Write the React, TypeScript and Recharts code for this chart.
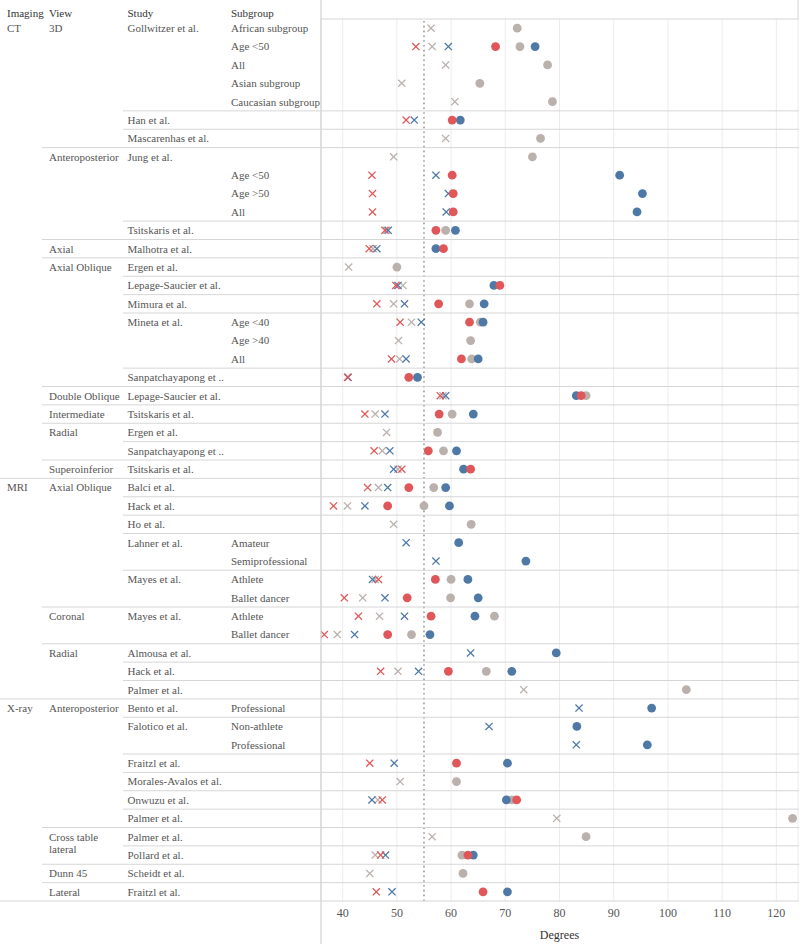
import React from 'react';
import { ScatterChart, Scatter, XAxis, YAxis, CartesianGrid, ReferenceLine } from 'recharts';

const imaging = [
  'CT', 'CT', 'CT', 'CT', 'CT', 'CT', 'CT', 'CT', 'CT', 'CT', 'CT', 'CT', 'CT',
  'CT', 'CT', 'CT', 'CT', 'CT', 'CT', 'CT', 'CT', 'CT', 'CT', 'CT', 'CT',
  'MRI', 'MRI', 'MRI', 'MRI', 'MRI', 'MRI', 'MRI', 'MRI', 'MRI', 'MRI', 'MRI', 'MRI',
  'X-ray', 'X-ray', 'X-ray', 'X-ray', 'X-ray', 'X-ray', 'X-ray', 'X-ray', 'X-ray', 'X-ray', 'X-ray',
];

const view = [
  '3D', '3D', '3D', '3D', '3D', '3D', '3D',
  'Anteroposterior', 'Anteroposterior', 'Anteroposterior', 'Anteroposterior', 'Anteroposterior',
  'Axial',
  'Axial Oblique', 'Axial Oblique', 'Axial Oblique', 'Axial Oblique', 'Axial Oblique', 'Axial Oblique', 'Axial Oblique',
  'Double Oblique', 'Intermediate', 'Radial', 'Radial', 'Superoinferior',
  'Axial Oblique', 'Axial Oblique', 'Axial Oblique', 'Axial Oblique', 'Axial Oblique', 'Axial Oblique', 'Axial Oblique',
  'Coronal', 'Coronal', 'Radial', 'Radial', 'Radial',
  'Anteroposterior', 'Anteroposterior', 'Anteroposterior', 'Anteroposterior', 'Anteroposterior', 'Anteroposterior', 'Anteroposterior',
  'Cross table lateral', 'Cross table lateral', 'Dunn 45', 'Lateral',
];

const study = [
  'Gollwitzer et al.', 'Gollwitzer et al.', 'Gollwitzer et al.', 'Gollwitzer et al.', 'Gollwitzer et al.',
  'Han et al.', 'Mascarenhas et al.',
  'Jung et al.', 'Jung et al.', 'Jung et al.', 'Jung et al.', 'Tsitskaris et al.',
  'Malhotra et al.',
  'Ergen et al.', 'Lepage-Saucier et al.', 'Mimura et al.', 'Mineta et al.', 'Mineta et al.', 'Mineta et al.', 'Sanpatchayapong et ..',
  'Lepage-Saucier et al.', 'Tsitskaris et al.', 'Ergen et al.', 'Sanpatchayapong et ..', 'Tsitskaris et al.',
  'Balci et al.', 'Hack et al.', 'Ho et al.', 'Lahner et al.', 'Lahner et al.', 'Mayes et al.', 'Mayes et al.',
  'Mayes et al.', 'Mayes et al.', 'Almousa et al.', 'Hack et al.', 'Palmer et al.',
  'Bento et al.', 'Falotico et al.', 'Falotico et al.', 'Fraitzl et al.', 'Morales-Avalos et al.', 'Onwuzu et al.', 'Palmer et al.',
  'Palmer et al.', 'Pollard et al.', 'Scheidt et al.', 'Fraitzl et al.',
];

const subgroup = [
  'African subgroup', 'Age <50', 'All', 'Asian subgroup', 'Caucasian subgroup', '', '',
  '', 'Age <50', 'Age >50', 'All', '',
  '',
  '', '', '', 'Age <40', 'Age >40', 'All', '',
  '', '', '', '', '',
  '', '', '', 'Amateur', 'Semiprofessional', 'Athlete', 'Ballet dancer',
  'Athlete', 'Ballet dancer', '', '', '',
  'Professional', 'Non-athlete', 'Professional', '', '', '', '',
  '', '', '', '',
];

// measured angles, one slot per row (null = not reported)
const redCircle = [
  null, 68.2, null, null, null, 60.2, null, null, 60.2, 60.4, 60.4, 57.2, 58.6,
  null, 69.0, 57.7, 63.4, null, 61.9, 52.2, 84.0, 57.8, null, 55.8, 63.6,
  52.2, 48.3, null, null, null, 57.1, 51.9, 56.3, 48.3, null, 59.5, null,
  null, null, null, 61.0, null, 72.1, null, null, 63.1, null, 65.9,
];
const blueCircle = [
  null, 75.5, null, null, null, 61.7, null, null, 91.1, 95.3, 94.3, 60.8, 57.2,
  null, 67.9, 66.1, 65.9, null, 65.0, 53.8, 83.1, 64.1, null, 61.0, 62.3,
  59.0, 59.7, null, 61.4, 73.8, 63.1, 65.0, 64.4, 56.1, 79.4, 71.2, null,
  97.0, 83.2, 96.2, 70.4, null, 70.2, null, null, 64.1, null, 70.4,
];
const grayCircle = [
  72.2, 72.7, 77.8, 65.3, 78.7, null, 76.5, 75.0, null, null, null, 59.0, null,
  50.0, null, 63.4, 65.4, 63.6, 63.8, null, 84.9, 60.2, 57.5, 58.6, null,
  56.8, 55.0, 63.7, null, null, 60.0, 59.9, 68.0, 52.7, null, 66.5, 103.4,
  null, null, null, null, 61.0, 71.2, 123.0, 84.9, 62.0, 62.2, null,
];
const redCross = [
  null, 53.5, null, null, null, 51.7, null, null, 45.4, 45.5, 45.5, 47.8, 44.9,
  null, 49.8, 46.3, 50.6, null, 49.0, 40.9, 58.0, 44.1, null, 45.8, 50.9,
  44.6, 38.3, null, null, null, 46.6, 40.3, 42.9, 36.6, null, 47.0, null,
  null, null, null, 45.0, null, 47.3, null, null, 47.0, null, 46.2,
];
const blueCross = [
  null, 59.5, null, null, null, 53.2, null, null, 57.2, 59.5, 59.1, 48.4, 46.3,
  null, 50.2, 51.4, 54.5, null, 51.7, 41.0, 59.0, 47.8, null, 48.7, 49.4,
  48.3, 44.1, null, 51.7, 57.2, 45.5, 47.8, 51.4, 42.2, 63.6, 54.0, null,
  83.6, 67.0, 83.1, 49.5, null, 45.4, null, null, 47.9, null, 49.1,
];
const grayCross = [
  56.3, 56.5, 59.0, 50.9, 60.7, null, 59.0, 49.4, null, null, null, 48.1, 45.6,
  41.1, 51.1, 49.4, 52.7, 50.3, 50.5, null, 58.5, 46.0, 48.1, 47.3, 50.2,
  46.6, 40.9, 49.4, null, null, 46.0, 43.7, 46.8, 39.0, null, 50.2, 73.4,
  null, null, null, null, 50.6, 46.5, 79.5, 56.5, 46.0, 45.0, null,
];

const xTicks = [40, 50, 60, 70, 80, 90, 100, 110, 120];

const RED = '#e15759';
const BLUE = '#4e79a7';
const GRAY = '#bab0ac';
const FONT = '"Liberation Serif", "Times New Roman", serif';
const TEXT = '#555';
const LINE = '#d6d6d6';

const W = 800;
const H = 944;
const TOP = 19;
const PLOT_LEFT = 321;
const PLOT_RIGHT = 798;
const PLOT_BOTTOM = 901;
const ROW_H = (PLOT_BOTTOM - TOP) / imaging.length;

const COL_X = [7, 49, 127.5, 231];
const rowIdx = imaging.map((_, i) => i);

const toPoints = (vals: (number | null)[]) =>
  vals.flatMap((v, i) => (v == null ? [] : [{ x: v, row: i }]));

const Dot = ({ cx, cy, fill }: any) => <circle cx={cx} cy={cy} r={4.4} fill={fill} />;

const Cross = ({ cx, cy, fill }: any) => {
  const s = 3.6;
  return (
    <g stroke={fill} strokeWidth={1.3} fill="none">
      <line x1={cx - s} y1={cy - s} x2={cx + s} y2={cy + s} />
      <line x1={cx - s} y1={cy + s} x2={cx + s} y2={cy - s} />
    </g>
  );
};

const txtStyle = { fontFamily: FONT, fontSize: 11, fill: TEXT };

// Left-hand table: one tick per row, plus row separators and frame
const RowLabel = ({ y, payload }: any) => {
  const i = payload.value as number;
  const top = y - ROW_H / 2;
  const newImg = i === 0 || imaging[i] !== imaging[i - 1];
  const newView = newImg || view[i] !== view[i - 1];
  const newStudy = newView || study[i] !== study[i - 1];
  const sepX = newImg ? 0 : newView ? 42 : 123;
  const viewLines = view[i] === 'Cross table lateral' ? ['Cross table', 'lateral'] : [view[i]];

  return (
    <g>
      {i > 0 && newStudy && (
        <line x1={sepX} x2={PLOT_RIGHT + 1} y1={top} y2={top} stroke={LINE} strokeWidth={1} />
      )}
      {i === 0 && (
        <g>
          {['Imaging', 'View', 'Study', 'Subgroup'].map((h, k) => (
            <text key={h} x={COL_X[k]} y={13} dy="0.35em" style={{ ...txtStyle, fill: '#333' }}>
              {h}
            </text>
          ))}
          <line x1={PLOT_LEFT} x2={PLOT_RIGHT + 1} y1={TOP} y2={TOP} stroke={LINE} />
          <line x1={PLOT_RIGHT} x2={PLOT_RIGHT} y1={0} y2={TOP} stroke={LINE} />
          <line x1={PLOT_LEFT} x2={PLOT_LEFT} y1={0} y2={H} stroke="#c8c8c8" />
        </g>
      )}
      {i === imaging.length - 1 && (
        <line x1={0} x2={PLOT_RIGHT + 1} y1={PLOT_BOTTOM} y2={PLOT_BOTTOM} stroke={LINE} />
      )}
      {newImg && (
        <text x={COL_X[0]} y={y} dy="0.35em" style={txtStyle}>
          {imaging[i]}
        </text>
      )}
      {newView &&
        viewLines.map((t, k) => (
          <text key={t} x={COL_X[1]} y={y + k * 12.5} dy="0.35em" style={txtStyle}>
            {t}
          </text>
        ))}
      {newStudy && (
        <text x={COL_X[2]} y={y} dy="0.35em" style={txtStyle}>
          {study[i]}
        </text>
      )}
      {subgroup[i] && (
        <text x={COL_X[3]} y={y} dy="0.35em" style={txtStyle}>
          {subgroup[i]}
        </text>
      )}
    </g>
  );
};

const DegreeTick = ({ x, payload }: any) => (
  <text x={x} y={917} textAnchor="middle" style={{ fontFamily: FONT, fontSize: 12, fill: TEXT }}>
    {payload.value}
  </text>
);

const DegreeLabel = () => (
  <text x={(PLOT_LEFT + PLOT_RIGHT) / 2} y={939} textAnchor="middle" style={{ fontFamily: FONT, fontSize: 12, fill: '#333' }}>
    Degrees
  </text>
);

export default function App() {
  const series = [
    { vals: grayCross, color: GRAY, shape: Cross },
    { vals: blueCross, color: BLUE, shape: Cross },
    { vals: redCross, color: RED, shape: Cross },
    { vals: grayCircle, color: GRAY, shape: Dot },
    { vals: blueCircle, color: BLUE, shape: Dot },
    { vals: redCircle, color: RED, shape: Dot },
  ];

  return (
    <div
      style={{ position: 'absolute', left: 0, top: 0, width: W, height: H, background: '#fff', fontFamily: FONT }}
    >
      <ScatterChart
        width={W}
        height={H}
        style={{ fontFamily: FONT }}
        margin={{ top: TOP, right: W - PLOT_RIGHT, bottom: 0, left: 0 }}
      >
        <CartesianGrid horizontal={false} stroke="#ececec" />
        <XAxis
          type="number"
          dataKey="x"
          domain={[36, 124]}
          ticks={xTicks}
          allowDataOverflow
          height={H - PLOT_BOTTOM}
          axisLine={false}
          tickLine={false}
          tick={<DegreeTick />}
          interval={0}
          label={<DegreeLabel />}
        />
        <YAxis
          type="number"
          dataKey="row"
          domain={[-0.5, imaging.length - 0.5]}
          ticks={rowIdx}
          reversed
          width={PLOT_LEFT}
          axisLine={false}
          tickLine={false}
          interval={0}
          tick={<RowLabel />}
        />
        {series.map((s, k) => (
          <Scatter
            key={k}
            data={toPoints(s.vals)}
            fill={s.color}
            shape={s.shape}
            isAnimationActive={false}
          />
        ))}
        <ReferenceLine x={55} stroke="#9a9a9a" strokeWidth={1.6} strokeDasharray="1.6 3.2" />
      </ScatterChart>
    </div>
  );
}
